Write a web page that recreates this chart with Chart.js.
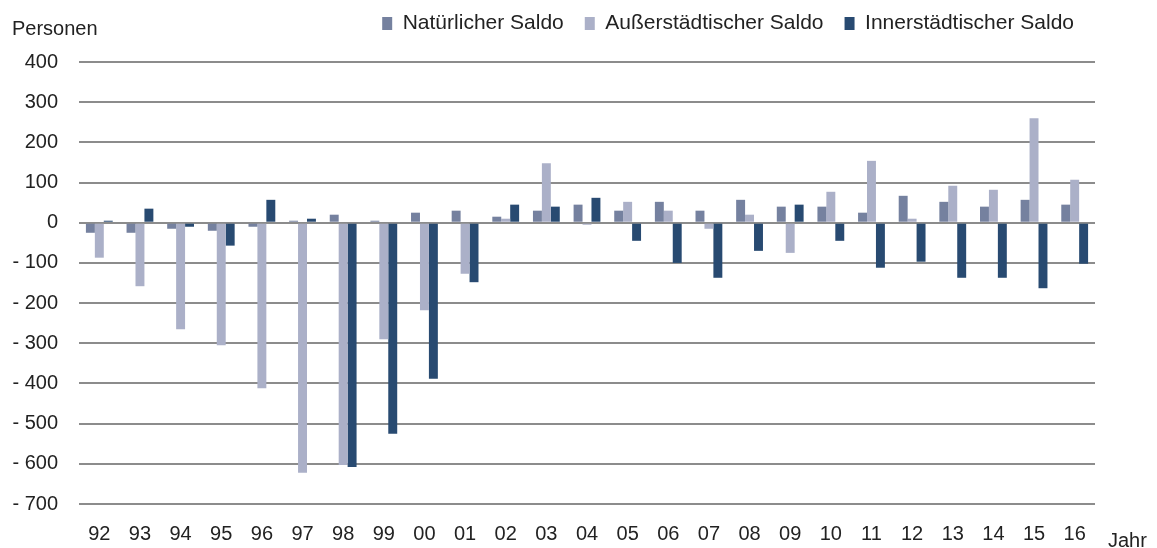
<!DOCTYPE html>
<html>
<head>
<meta charset="utf-8">
<script src="https://cdn.jsdelivr.net/npm/chart.js@4"></script>
<style>
  html, body { margin: 0; padding: 0; background: #fff; }
  #wrap { width: 1157px; height: 548px; }
</style>
</head>
<body>
<div id="wrap"><canvas id="c" width="1157" height="548"></canvas></div>
<script>
// years (x categories)
const years = ["92", "93", "94", "95", "96", "97", "98", "99", "00", "01", "02", "03", "04",
  "05", "06", "07", "08", "09", "10", "11", "12", "13", "14", "15", "16"];

// series values
const natuerlich = [-25, -25, -15, -20, -10, 5, 20, 5, 25, 30, 15, 30, 45,
  30, 52, 30, 57, 40, 40, 25, 67, 52, 40, 57, 45];
const ausserstaedtisch = [-87, -158, -265, -305, -412, -622, -603, -290, -218, -127, 10, 148, -5,
  52, 30, -15, 20, -75, 77, 154, 10, 92, 82, 260, 107];
const innerstaedtisch = [5, 35, -10, -57, 57, 10, -608, -525, -388, -148, 45, 40, 62,
  -45, -100, -137, -70, 45, -45, -112, -97, -137, -137, -163, -102];

const yMin = -700;
const yMax = 400;
const yStep = 100;

const font = "'Liberation Sans', Arial, sans-serif";

// axis captions "Personen" and "Jahr"
const captions = {
  id: "captions",
  afterDraw(chart) {
    const ctx = chart.ctx;
    ctx.save();
    ctx.fillStyle = "#222";
    ctx.font = "20px " + font;
    ctx.textBaseline = "alphabetic";
    ctx.textAlign = "left";
    ctx.fillText("Personen", 12, 35);
    ctx.fillText("Jahr", 1108, 547);
    ctx.restore();
  },
};

new Chart(document.getElementById("c"), {
  type: "bar",
  data: {
    labels: years,
    datasets: [
      {
        label: "Natürlicher Saldo",
        data: natuerlich,
        backgroundColor: "#75819f",
      },
      {
        label: "Außerstädtischer Saldo",
        data: ausserstaedtisch,
        backgroundColor: "#abb0c8",
      },
      {
        label: "Innerstädtischer Saldo",
        data: innerstaedtisch,
        backgroundColor: "#284a71",
      },
    ],
  },
  options: {
    responsive: false,
    animation: false,
    layout: {
      padding: { top: -8, right: 62, left: 0, bottom: 2 },
    },
    datasets: {
      bar: {
        categoryPercentage: 0.66,
        barPercentage: 1.0,
      },
    },
    plugins: {
      legend: {
        position: "top",
        align: "end",
        labels: {
          boxWidth: 10,
          boxHeight: 13,
          padding: 21,
          color: "#222",
          font: { family: font, size: 21 },
        },
      },
      tooltip: { enabled: false },
    },
    scales: {
      // empty spacer between legend and plot
      xTop: {
        type: "category",
        position: "top",
        labels: years,
        grid: { display: false, drawTicks: false },
        border: { display: false },
        ticks: { display: false },
        afterFit: (s) => { s.height = 18; },
      },
      x: {
        grid: { display: false, drawTicks: false },
        border: { display: false },
        ticks: {
          color: "#222",
          padding: 18,
          maxRotation: 0,
          font: { family: font, size: 20 },
        },
        afterFit: (s) => { s.height = 42; },
      },
      y: {
        min: yMin,
        max: yMax,
        grid: {
          color: "#8c8c8c",
          lineWidth: 2,
          drawTicks: false,
        },
        border: { display: false },
        ticks: {
          stepSize: yStep,
          color: "#222",
          padding: 21,
          font: { family: font, size: 20 },
          callback: (v) => (v < 0 ? "- " + Math.abs(v) : String(v)),
        },
        afterFit: (s) => { s.width = 79; },
      },
    },
  },
  plugins: [captions],
});
</script>
</body>
</html>
